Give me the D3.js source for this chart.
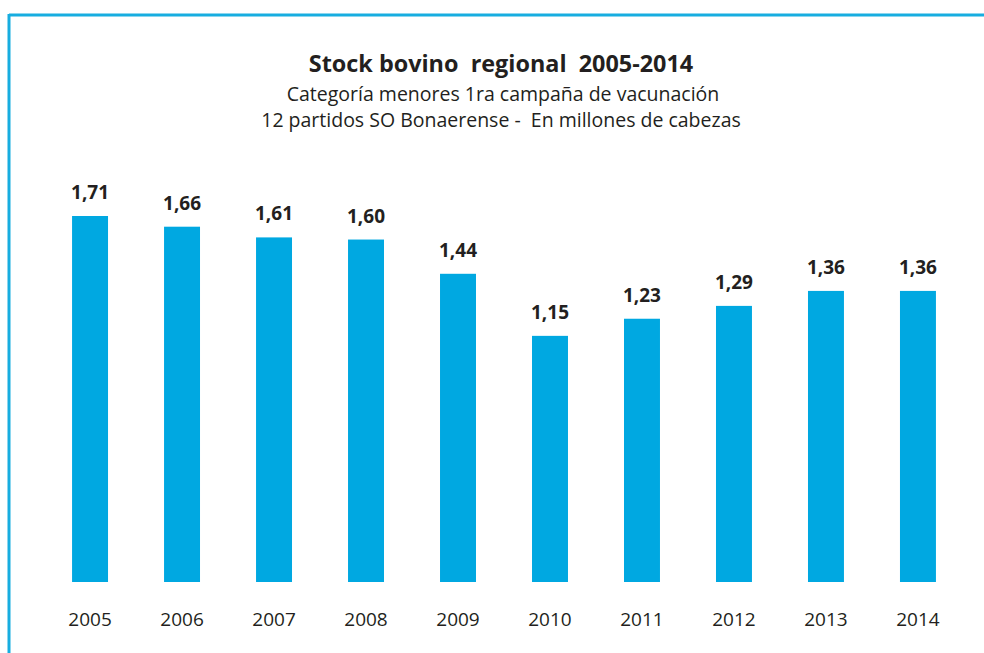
<!DOCTYPE html>
<html>
<head>
<meta charset="utf-8">
<script src="https://cdn.jsdelivr.net/npm/d3@7"></script>
<style>
  html, body { margin: 0; padding: 0; background: #fff; }
  svg { display: block; }
  .axis text { font-family: "Open Sans", sans-serif; font-size: 19px; fill: #231f20; }
</style>
</head>
<body>
<svg id="chart" width="984" height="653"></svg>
<script>
// Regional cattle stock, young category, first vaccination campaign (million head)
const years = ["2005", "2006", "2007", "2008", "2009", "2010", "2011", "2012", "2013", "2014"];
const stock = [1.71, 1.66, 1.61, 1.60, 1.44, 1.15, 1.23, 1.29, 1.36, 1.36];
const titleLines = [
  "Stock bovino  regional  2005-2014",
  "Categoría menores 1ra campaña de vacunación",
  "12 partidos SO Bonaerense -  En millones de cabezas"
];

const svg = d3.select("#chart");
const W = 984, H = 653;
const barColor = "#00a8e1";
const textColor = "#231f20";

// Frame lines along the top and left edges
svg.append("line").attr("x1", 9).attr("x2", W).attr("y1", 15).attr("y2", 15)
  .attr("stroke", "#17ade0").attr("stroke-width", 3);
svg.append("line").attr("x1", 9).attr("x2", 9).attr("y1", 14).attr("y2", H)
  .attr("stroke", "#17ade0").attr("stroke-width", 3);

// Titles
svg.append("text").attr("x", 501).attr("y", 72).attr("text-anchor", "middle")
  .attr("font-family", "Open Sans, sans-serif").attr("font-weight", 700)
  .attr("font-size", 23.4).attr("fill", textColor).attr("xml:space", "preserve")
  .text(titleLines[0]);
svg.append("text").attr("x", 503).attr("y", 101).attr("text-anchor", "middle")
  .attr("font-family", "Open Sans, sans-serif").attr("font-size", 19.5)
  .attr("fill", textColor).text(titleLines[1]);
svg.append("text").attr("x", 501).attr("y", 127).attr("text-anchor", "middle")
  .attr("font-family", "Open Sans, sans-serif").attr("font-size", 19.5)
  .attr("fill", textColor).attr("xml:space", "preserve").text(titleLines[2]);

// Scales
const x = d3.scaleBand().domain(years).range([44, 964]).paddingInner(0.609).paddingOuter(0.305);
const y = d3.scaleLinear().domain([0, 1.71]).range([582, 216]);

// Bars
svg.append("g").selectAll("rect").data(years).join("rect")
  .attr("x", d => x(d))
  .attr("width", x.bandwidth())
  .attr("y", (d, i) => y(stock[i]))
  .attr("height", (d, i) => y(0) - y(stock[i]))
  .attr("fill", barColor);

// Value labels
const fmt = v => d3.format(".2f")(v).replace(".", ",");
svg.append("g").selectAll("text").data(years).join("text")
  .attr("x", d => x(d) + x.bandwidth() / 2)
  .attr("y", (d, i) => y(stock[i]) - 17)
  .attr("text-anchor", "middle")
  .attr("font-family", "Open Sans, sans-serif").attr("font-weight", 700)
  .attr("font-size", 19).attr("fill", textColor)
  .text((d, i) => fmt(stock[i]));

// Category axis
const xAxis = d3.axisBottom(x).tickSize(0).tickPadding(0);
svg.append("g").attr("class", "axis").attr("transform", "translate(0,612)")
  .call(xAxis)
  .call(g => g.select(".domain").remove())
  .call(g => g.selectAll("text").attr("dy", "0.71em"));
</script>
</body>
</html>
